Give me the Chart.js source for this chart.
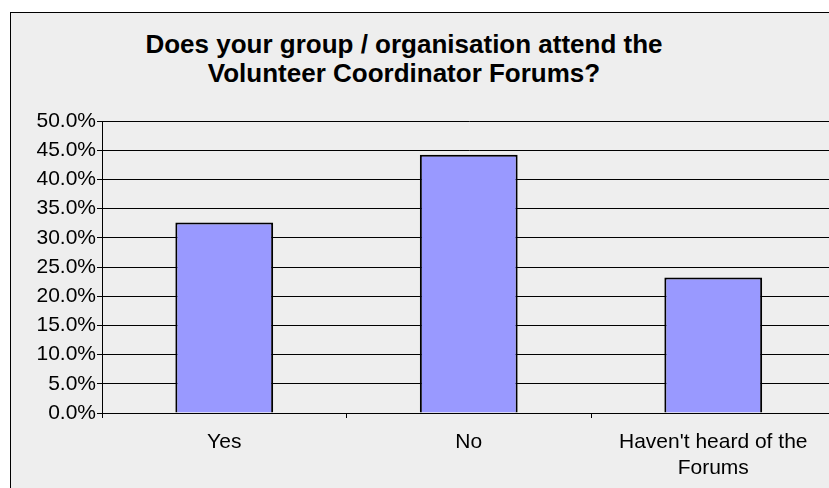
<!DOCTYPE html>
<html>
<head>
<meta charset="utf-8">
<script src="https://cdn.jsdelivr.net/npm/chart.js@4.4.1/dist/chart.umd.min.js"></script>
<style>
  html, body { margin: 0; padding: 0; background: #ffffff; width: 829px; height: 488px; overflow: hidden; }
  #frame {
    position: absolute; left: 10px; top: 12px; width: 860px; height: 500px;
    border: 1px solid #000; background: #eeeeee;
  }
  #title {
    position: absolute; left: 0; top: 30px; width: 808px; text-align: center;
    font: bold 26px "Liberation Sans", Arial, sans-serif; line-height: 29px; color: #000;
  }
  #wrap { position: absolute; left: 11px; top: 13px; width: 840px; height: 475px; }
</style>
</head>
<body>
<div id="frame"></div>
<div id="title">Does your group / organisation attend the<br>Volunteer Coordinator Forums?</div>
<div id="wrap"><canvas id="chart"></canvas></div>
<script>
// Survey answers and their shares of respondents
const categories = [["Yes"], ["No"], ["Haven't heard of the", "Forums"]];
const shares = [0.326, 0.442, 0.232];
const yMin = 0;
const yMax = 0.5;
const yStep = 0.05;

const FONT = '"Liberation Sans", Arial, sans-serif';

new Chart(document.getElementById('chart'), {
  type: 'bar',
  data: {
    labels: categories,
    datasets: [{
      data: shares,
      backgroundColor: '#9999ff',
      borderColor: '#000000',
      borderWidth: 2,
      barPercentage: 0.4,
      categoryPercentage: 1.0
    }]
  },
  options: {
    responsive: true,
    maintainAspectRatio: false,
    animation: false,
    layout: { padding: { top: 108, right: 15.5, bottom: 0, left: 0 } },
    plugins: {
      legend: { display: false },
      tooltip: { enabled: false }
    },
    scales: {
      x: {
        grid: { display: true, drawOnChartArea: false, drawTicks: true, tickLength: 5, color: '#000', offset: true },
        border: { display: true, color: '#000', width: 1 },
        ticks: { color: '#000', font: { family: FONT, size: 21 }, padding: 12, maxRotation: 0, autoSkip: false },
        afterFit: (s) => { s.height = 75; }
      },
      y: {
        min: yMin,
        max: yMax,
        grid: { color: '#000', lineWidth: 1, tickLength: 5, drawTicks: true },
        border: { display: true, color: '#000', width: 1 },
        ticks: {
          stepSize: yStep,
          color: '#000',
          padding: 1,
          font: { family: FONT, size: 21 },
          callback: (v) => (v * 100).toFixed(1) + '%'
        },
        afterFit: (s) => { s.width = 91; }
      }
    }
  }
});
</script>
</body>
</html>
